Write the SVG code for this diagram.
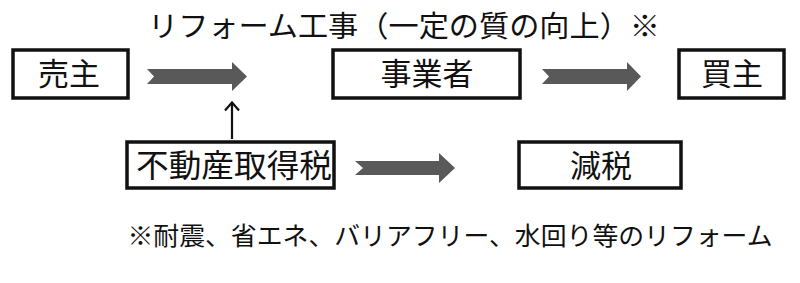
<svg xmlns="http://www.w3.org/2000/svg" width="800" height="283" viewBox="0 0 800 283">
<defs>
<style>
.box{fill:#fff;stroke:#111;stroke-width:3.5}
.t{font-family:"Noto Sans CJK JP","Noto Sans CJK SC",sans-serif;fill:#111}
.big{font-size:31px}
.arr{fill:#595959}
.ln{fill:none;stroke:#111;stroke-width:2.2}
</style>
</defs>
<rect width="800" height="283" fill="#fff"/>
<text class="t" x="404" y="37" font-size="29" text-anchor="middle" textLength="512" lengthAdjust="spacingAndGlyphs">リフォーム工事（一定の質の向上）※</text>
<g id="seller">
<rect class="box" x="13" y="50" width="115" height="48"/>
<text class="t big" x="69" y="85" text-anchor="middle">売主</text>
</g>
<g id="business">
<rect class="box" x="333" y="50" width="187" height="48"/>
<text class="t big" x="427" y="85" text-anchor="middle">事業者</text>
</g>
<g id="buyer">
<rect class="box" x="679" y="50" width="105" height="48"/>
<text class="t big" x="732" y="85" text-anchor="middle">買主</text>
</g>
<g id="tax">
<rect class="box" x="127" y="142" width="207" height="46"/>
<text class="t" x="234" y="177" font-size="32" text-anchor="middle" textLength="196" lengthAdjust="spacingAndGlyphs">不動産取得税</text>
</g>
<g id="reduction">
<rect class="box" x="519" y="142" width="162" height="46"/>
<text class="t big" x="601" y="177" text-anchor="middle">減税</text>
</g>
<g id="connectors">
<path class="arr" d="M147,69 L232,69 L232,62 L247,76.5 L232,91 L232,84 L147,84 L154,76.5 Z"/>
<path class="arr" d="M542,69 L627,69 L627,62 L641,76.5 L627,91 L627,84 L542,84 L549,76.5 Z"/>
<path class="arr" d="M355,161 L439,161 L439,153 L455,168 L439,183 L439,175 L355,175 L363,168 Z"/>
<line class="ln" x1="232" y1="139" x2="232" y2="103"/>
<polyline class="ln" points="225,110.5 232,102.5 239,110.5"/>
</g>
<text class="t" x="450" y="245" font-size="25.5" text-anchor="middle" textLength="645" lengthAdjust="spacingAndGlyphs">※耐震、省エネ、バリアフリー、水回り等のリフォーム</text>
</svg>
